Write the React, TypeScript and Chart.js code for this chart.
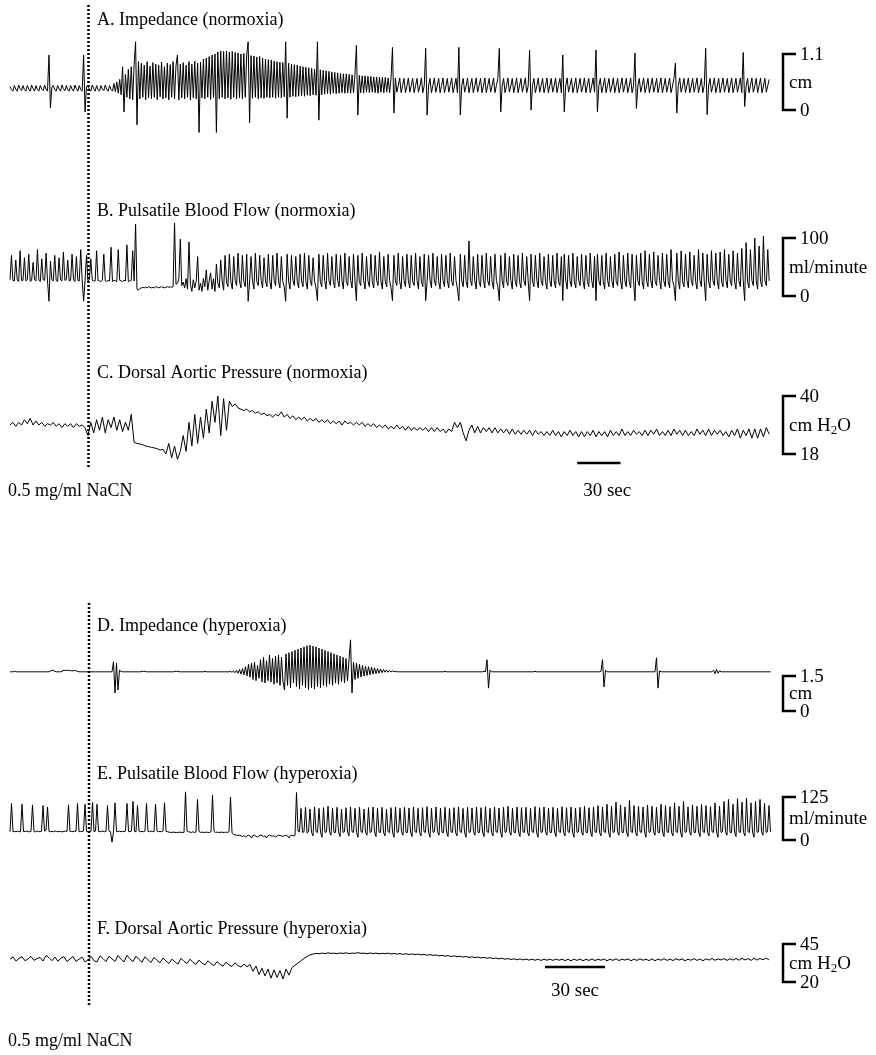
import React, { useEffect, useRef } from "react";
import { Chart, registerables } from "chart.js";
Chart.register(...registerables);

// ---------- DATA ----------
// sampling interval (seconds) of each recorded trace
const DT_A = 1;
const DT_B = 1;
const DT_C = 2;
const DT_D = 0.75;
const DT_E = 0.75;
const DT_F = 1.5;

// A. Impedance (normoxia), cm
const impedanceNormoxia = [
  0.46,0.40,0.37,0.48,0.41,0.37,0.49,0.42,0.38,0.48,0.40,0.37,0.48,0.41,0.37,0.49,0.42,0.37,0.48,0.40,
  0.37,0.48,0.41,0.38,0.49,0.41,0.37,1.08,0.04,0.45,0.48,0.40,0.37,0.48,0.41,0.37,0.49,0.42,0.38,0.48,
  0.40,0.37,0.48,0.41,0.37,0.49,0.42,0.37,0.48,0.40,0.37,1.08,-0.04,0.46,0.48,0.41,0.37,0.49,0.42,0.37,
  0.48,0.40,0.37,0.48,0.41,0.38,0.49,0.41,0.37,0.48,0.40,0.37,0.52,0.36,0.55,0.33,0.60,0.30,0.85,-0.04,
  0.70,0.25,0.80,0.22,0.85,0.20,0.90,1.34,-0.29,0.95,0.22,0.92,0.25,0.88,0.20,0.95,0.24,0.86,0.22,0.93,
  0.25,0.90,0.20,0.88,0.26,0.94,0.22,0.85,0.24,0.92,0.20,0.89,0.25,0.95,0.22,0.87,1.08,0.20,0.90,0.24,
  0.93,0.22,0.88,0.25,0.95,0.20,0.90,0.24,0.96,0.22,0.92,-0.44,0.94,0.24,1.00,0.22,1.02,0.25,1.05,0.21,
  1.08,0.24,1.10,-0.44,1.14,0.22,1.16,0.25,1.15,0.22,1.16,0.24,1.14,0.21,1.15,0.25,1.13,0.22,1.12,0.24,
  1.10,0.22,1.11,0.25,1.08,1.34,-0.25,1.07,0.23,1.06,0.25,1.04,0.22,1.05,0.24,1.02,0.23,1.00,0.25,0.99,
  0.24,0.98,0.25,0.96,0.23,0.95,0.25,0.94,0.24,0.93,0.26,1.34,-0.16,0.92,0.25,0.90,0.27,0.89,0.26,0.88,
  0.27,0.86,0.28,0.85,0.27,0.84,0.29,0.83,0.28,0.82,0.30,0.80,0.29,1.34,-0.20,0.79,0.30,0.78,0.31,0.77,
  0.32,0.76,0.31,0.75,0.33,0.74,0.32,0.73,0.33,0.72,0.34,0.71,0.33,0.71,0.34,0.70,0.33,0.69,0.34,0.69,
  1.27,-0.10,0.68,0.34,0.67,0.33,0.67,0.35,0.66,0.34,0.66,0.35,0.65,0.34,0.65,0.33,0.64,0.35,0.64,0.34,
  0.64,0.35,0.63,0.34,0.63,1.23,-0.06,0.63,0.35,0.48,0.63,0.34,0.48,0.62,0.34,0.47,0.63,0.35,0.48,0.62,
  0.34,0.48,0.62,0.35,0.47,0.63,0.34,0.48,1.21,-0.10,0.47,0.62,0.34,0.48,0.63,0.35,0.47,0.62,0.34,0.48,
  0.63,0.34,0.47,0.62,0.35,0.48,0.63,0.34,0.47,0.62,0.34,1.23,-0.10,0.48,0.62,0.35,0.47,0.63,0.34,0.48,
  0.62,0.34,0.47,0.63,0.35,0.48,0.62,0.34,0.47,0.63,0.34,0.48,0.62,0.35,0.47,0.63,0.34,0.48,0.62,1.21,
  -0.04,0.47,0.62,0.34,0.48,0.63,0.35,0.47,0.62,0.34,0.48,0.63,0.34,0.47,0.62,0.35,0.48,0.63,0.34,0.47,
  1.17,0.00,0.48,0.62,0.34,0.47,0.63,0.35,0.48,0.62,0.34,0.47,0.63,0.34,0.48,0.62,0.35,0.47,0.63,0.34,
  0.48,0.62,0.34,1.08,-0.04,0.47,0.63,0.35,0.48,0.62,0.34,0.47,0.63,0.34,0.48,0.62,0.35,0.47,0.63,0.34,
  0.48,0.62,0.34,0.47,0.63,0.35,1.18,-0.04,0.48,0.62,0.34,0.47,0.63,0.34,0.48,0.62,0.35,0.47,0.63,0.34,
  0.48,0.62,0.34,0.47,0.63,0.35,0.48,0.62,0.34,0.47,0.63,0.34,0.48,1.12,0.03,0.47,0.62,0.35,0.48,0.63,
  0.34,0.47,0.62,0.34,0.48,0.63,0.35,0.47,0.62,0.34,0.48,0.63,0.34,0.47,0.62,0.35,0.48,0.63,0.34,0.47,
  0.62,0.92,-0.06,0.48,0.63,0.35,0.47,0.62,0.34,0.48,0.63,0.34,0.47,0.62,0.35,0.48,0.63,0.34,0.47,0.62,
  0.34,0.48,1.21,-0.09,0.47,0.62,0.35,0.48,0.63,0.34,0.47,0.62,0.34,0.48,0.63,0.35,0.47,0.62,0.34,0.48,
  0.63,0.34,0.47,0.62,0.35,0.48,0.63,0.34,1.13,0.07,0.47,0.62,0.34,0.48,0.63,0.35,0.47,0.62,0.34,0.48,
  0.63,0.34,0.47,0.62,0.35,0.48,0.60,
];

// B. Pulsatile blood flow (normoxia), ml/minute
const flowNormoxia = [
  28,70,27,26,62,28,25,78,27,27,66,26,28,72,25,27,58,28,26,80,
  27,25,64,28,27,74,26,-9,60,28,26,70,27,25,66,28,26,76,27,28,
  62,26,27,72,28,25,68,27,26,80,28,-9,27,70,26,28,64,27,26,26,
  78,27,26,25,27,72,26,25,27,26,84,25,27,26,25,80,27,26,25,27,
  26,88,25,26,27,78,26,124,12,10,13,14,15,14,15,14,16,15,14,15,
  14,16,15,14,15,16,15,14,15,16,15,16,15,16,126,20,22,30,98,18,
  24,14,30,12,93,20,8,28,14,25,68,10,22,8,30,16,45,10,26,40,
  12,30,8,55,22,14,62,26,10,70,24,16,72,25,12,68,27,18,74,26,
  14,70,25,16,72,-9,24,68,26,12,74,25,18,70,27,14,66,26,16,72,
  25,12,70,27,18,74,26,14,68,25,16,-9,72,26,12,70,27,18,68,25,
  14,72,26,16,74,25,12,70,27,18,66,26,14,-8,72,25,16,70,27,12,
  74,26,18,68,25,14,72,27,16,70,26,12,74,25,18,68,27,14,72,26,
  -8,70,25,18,74,27,12,68,26,16,72,25,14,70,27,18,76,26,12,68,
  25,16,72,27,14,-8,70,26,18,74,25,12,68,27,16,72,26,14,70,25,
  18,74,27,12,68,26,16,72,-8,25,70,27,14,74,26,18,68,25,12,72,
  27,16,70,26,14,74,25,18,68,27,12,-8,72,26,16,70,25,14,95,27,
  18,68,26,12,72,25,16,70,27,14,74,26,18,68,25,12,72,27,16,-8,
  70,26,14,74,25,18,68,27,12,72,26,16,70,25,14,74,27,18,68,26,
  -8,72,25,16,70,27,14,74,26,18,68,25,12,72,27,16,70,26,14,74,
  25,18,68,-8,72,27,12,70,26,16,74,25,14,68,27,18,72,26,12,70,
  25,16,74,27,14,68,-8,72,26,18,70,25,12,74,27,16,68,26,14,72,
  25,18,76,27,12,70,26,16,74,25,14,72,27,-8,70,26,18,74,25,12,
  78,27,16,72,26,14,76,25,18,70,27,12,74,26,16,72,25,14,80,27,
  18,-8,74,26,12,78,25,16,72,27,14,76,26,18,70,25,12,80,27,16,
  74,26,-8,72,25,14,78,27,18,74,26,12,76,25,16,80,27,14,72,26,
  18,78,25,12,74,27,16,82,26,-8,92,25,14,80,27,18,100,26,12,86,
  25,16,103,27,18,80,26,
];

// C. Dorsal aortic pressure (normoxia), cm H2O
const pressureNormoxia = [
  29,30,28.5,30,29,31,29.5,31.5,29,30.5,29,30,28.5,29.5,29,30,28.5,29.5,28,29.5,
  28.5,29.5,28,29.5,28.5,29,28,25,30,26,31,27,32,26,31,28,32,27,31,26.5,
  30,27,33,22.4,22,21.8,21.5,21,20.8,20.5,20.3,20,19.5,19.8,18,22,16.5,21,16,19,
  25,19,30,21,33,22,32,24,35,26,38,30,40,25,39,27,38,36,37,35.5,
  35,34.5,35,34,34.5,33.5,34,33,33.5,32.5,33,32,33,32.5,34,32,33,31.5,32.5,31,
  32,31,32,30.5,31.5,30.5,31.5,30,31,30,31,29.5,30.5,29.5,30.5,29,30.5,29.5,30,29,
  30,29,30,28.5,29.5,28.5,29.5,28,29,28,29,27.5,28.5,27.5,29,27.5,28.5,27,28.5,27,
  28,27,28,27,28,26.5,28,26.5,28,26.5,27.5,26,27.5,26.5,30,28,30,26,23,27,
  29,26,28.5,26,28,26.5,28,26,28,26,27.5,26,27.5,25.5,27.5,25.5,27,25.5,27,25.5,
  27,25,27,25.5,26.5,25,26.5,25,27,25,26.5,24.5,26.5,25,27,25,26.5,24.5,26.5,24.5,
  26.5,25,27,24.5,26.5,25,26.5,24.5,27,25,26.5,25,27.5,25,26.5,25,27,25.5,26.5,25,
  27,25,27,25.5,27.5,25,26.5,25,27,25,27.5,25.5,27,25,27,25,26.5,25,27.5,25.5,
  27,25,27.5,25,27,25.5,27,25,26.5,24.5,27,25,27.5,24,27,25,27.5,24,27.5,24,
  27.5,24.5,28,25.5,
];

// D. Impedance (hyperoxia), cm
const impedanceHyperoxia = [
  1.68,1.68,1.68,1.70,1.68,1.68,1.68,1.68,1.68,1.68,1.68,1.68,1.68,1.68,1.68,1.68,1.68,1.68,1.68,1.68,
  1.68,1.68,1.68,1.68,1.68,1.68,1.68,1.72,1.74,1.74,1.70,1.68,1.68,1.68,1.68,1.72,1.74,1.74,1.74,1.74,
  1.74,1.72,1.72,1.74,1.72,1.70,1.68,1.68,1.68,1.68,1.68,1.68,1.68,1.68,1.68,1.68,1.68,1.68,1.68,1.68,
  1.68,1.68,1.68,1.68,1.68,1.68,1.68,1.68,1.68,2.11,0.77,2.05,0.90,1.75,1.70,1.68,1.68,1.68,1.68,1.68,
  1.68,1.68,1.68,1.68,1.68,1.68,1.68,1.68,1.70,1.70,1.70,1.68,1.68,1.68,1.68,1.68,1.68,1.68,1.68,1.68,
  1.68,1.68,1.68,1.68,1.68,1.68,1.68,1.68,1.68,1.68,1.70,1.70,1.70,1.68,1.68,1.68,1.68,1.68,1.68,1.68,
  1.68,1.68,1.68,1.68,1.68,1.68,1.68,1.68,1.68,1.68,1.70,1.68,1.68,1.68,1.68,1.68,1.68,1.68,1.68,1.68,
  1.68,1.68,1.68,1.68,1.68,1.68,1.68,1.70,1.66,1.72,1.64,1.74,1.62,1.78,1.58,1.82,1.55,1.90,1.50,2.00,
  1.45,2.05,1.35,2.10,1.30,1.95,1.40,2.20,1.25,2.30,1.20,2.15,1.30,2.40,1.24,2.25,1.15,2.35,1.20,2.40,
  1.10,2.30,1.25,0.90,2.45,1.10,2.50,1.00,2.55,1.20,2.60,1.05,2.65,0.95,2.70,1.10,2.75,1.00,2.80,0.92,
  2.82,1.00,2.78,0.95,2.75,1.05,2.70,1.00,2.65,1.10,2.60,1.05,2.55,1.15,2.50,1.10,2.45,1.20,2.40,1.15,
  2.35,1.25,2.30,1.20,2.25,1.30,2.20,3.05,0.77,2.10,1.35,2.05,1.40,2.00,1.45,1.95,1.50,1.92,1.52,1.90,
  1.55,1.88,1.58,1.85,1.60,1.82,1.62,1.80,1.64,1.78,1.66,1.76,1.66,1.74,1.67,1.72,1.68,1.70,1.68,1.68,
  1.68,1.68,1.68,1.68,1.68,1.68,1.68,1.68,1.68,1.68,1.68,1.68,1.68,1.68,1.68,1.68,1.68,1.68,1.68,1.68,
  1.68,1.68,1.68,1.68,1.68,1.68,1.68,1.68,1.68,1.68,1.70,1.68,1.68,1.68,1.68,1.68,1.68,1.68,1.68,1.68,
  1.68,1.68,1.68,1.68,1.68,1.68,1.68,1.68,1.68,1.68,1.68,1.68,1.68,1.68,1.68,1.68,1.70,1.68,2.20,0.98,
  1.75,1.68,1.68,1.68,1.68,1.68,1.68,1.68,1.68,1.68,1.68,1.68,1.68,1.68,1.68,1.68,1.68,1.68,1.68,1.68,
  1.68,1.68,1.68,1.68,1.68,1.68,1.68,1.68,1.68,1.68,1.70,1.68,1.68,1.68,1.68,1.68,1.68,1.68,1.68,1.68,
  1.68,1.68,1.68,1.68,1.68,1.68,1.68,1.68,1.68,1.68,1.68,1.68,1.68,1.68,1.68,1.68,1.68,1.68,1.68,1.68,
  1.68,1.68,1.68,1.68,1.68,1.68,1.68,1.68,1.68,1.68,1.68,1.68,1.68,1.68,1.70,2.20,1.03,1.75,1.68,1.68,
  1.68,1.68,1.68,1.68,1.68,1.68,1.68,1.68,1.68,1.68,1.68,1.68,1.68,1.68,1.68,1.68,1.68,1.68,1.68,1.68,
  1.68,1.68,1.68,1.68,1.68,1.68,1.68,1.68,1.68,1.68,1.68,2.28,0.98,1.72,1.68,1.68,1.68,1.68,1.68,1.68,
  1.68,1.68,1.68,1.68,1.68,1.68,1.68,1.68,1.68,1.68,1.68,1.68,1.68,1.68,1.68,1.68,1.68,1.68,1.68,1.68,
  1.68,1.68,1.68,1.68,1.68,1.68,1.68,1.68,1.68,1.75,1.60,1.78,1.62,1.72,1.68,1.68,1.68,1.68,1.68,1.68,
  1.68,1.68,1.68,1.68,1.68,1.68,1.68,1.68,1.68,1.68,1.68,1.68,1.68,1.68,1.68,1.68,1.68,1.68,1.68,1.68,
  1.68,1.68,1.68,1.68,1.68,1.68,1.68,1.68,
];

// E. Pulsatile blood flow (hyperoxia), ml/minute
const flowHyperoxia = [
  24,106,24,25,24,26,24,24,104,24,25,26,24,24,25,102,24,24,26,25,
  24,25,100,26,28,96,25,24,25,24,26,25,24,25,24,24,25,26,25,102,
  24,25,24,26,25,106,24,25,24,26,104,25,24,26,25,110,24,26,104,25,
  24,25,26,24,25,100,26,24,-6,24,108,25,24,26,24,25,24,26,106,25,
  24,26,112,25,24,100,26,24,25,24,26,106,25,24,26,25,24,104,26,24,
  25,24,26,108,25,24,23,22,22,23,22,22,22,23,22,22,22,140,26,24,
  23,22,24,22,23,118,25,22,23,22,22,23,22,22,24,130,25,22,23,22,
  22,23,22,22,23,22,24,125,20,16,15,14,13,14,12,10,13,8,12,14,
  12,6,13,14,11,8,12,14,13,10,12,6,13,14,12,11,13,8,12,14,
  13,12,10,13,14,12,6,13,14,12,13,138,26,24,92,22,24,95,20,24,
  90,22,12,96,24,22,92,23,8,94,22,24,98,24,14,93,22,22,95,24,
  10,90,22,24,94,23,12,96,24,22,92,22,8,95,24,22,90,23,14,94,
  22,24,96,24,10,92,23,22,95,22,12,90,24,22,94,23,8,96,22,24,
  92,24,14,95,22,22,93,23,10,96,24,22,92,22,12,94,24,22,97,23,
  8,92,22,24,96,24,14,93,22,22,95,23,10,91,24,22,94,22,12,96,
  24,22,92,23,8,95,22,24,93,24,14,96,22,22,94,23,10,97,24,22,
  92,22,12,96,24,22,93,23,8,95,22,24,98,24,14,92,22,22,96,23,
  10,94,24,22,95,22,12,92,24,22,97,23,8,94,22,24,96,24,14,93,
  22,22,95,23,10,92,24,22,97,22,12,94,24,22,96,23,8,93,22,24,
  95,24,14,98,22,22,94,23,10,96,24,22,100,22,12,96,24,22,104,23,
  8,98,22,24,110,24,14,102,22,22,96,23,10,115,24,22,100,22,12,98,
  24,22,96,23,8,102,22,24,98,24,14,95,22,22,104,23,10,100,24,22,
  97,22,12,108,24,22,98,23,8,112,22,24,96,24,14,102,22,22,98,23,
  10,104,24,22,100,22,12,97,24,22,108,23,8,98,22,24,112,24,14,118,
  22,22,104,23,10,120,24,22,110,22,12,122,24,22,108,23,8,112,22,24,
  118,24,14,106,22,24,100,24,
];

// F. Dorsal aortic pressure (hyperoxia), cm H2O
const pressureHyperoxia = [
  35,36.5,33.8,35.5,36.6,34,35.2,36.8,34.2,35.4,36.2,33.8,37.5,36,34,36.4,33.6,35.8,36.6,33.4,
  35.2,36.8,33.6,35,36.4,33.2,34.6,36.8,34,33.2,37.2,35.4,33.4,37,35.2,33.6,37.4,35,33.2,37.6,
  35.2,33.4,37,34.8,33,36.6,34.6,32.8,36.2,34.2,32.6,35.8,33.8,32.2,35,33.2,31.8,35.6,33.6,32.2,
  35,33,31.6,34.4,32.4,31.2,34,32,30.8,33.4,31.6,30.4,33,31.2,30.2,32.6,30.8,29.8,31.8,30,
  31.5,27,30.5,25,29,24,28.5,22.5,28,23,27.5,22,28.5,24.5,29.5,31,32.5,34,35.5,36.8,
  37.8,38.4,38.8,38.6,39,38.7,39.2,38.8,39,38.6,39.1,38.8,39.2,38.7,39,38.9,39.3,38.8,39,38.6,
  39.1,38.7,39,38.5,38.9,38.6,39,38.4,38.8,38.3,38.7,38.2,38.6,38.1,38.5,38,38.4,37.8,38.2,37.6,
  38,37.5,37.8,37.2,37.6,37,37.4,36.8,37.2,36.6,37,36.4,36.8,36.2,36.6,36,36.4,35.8,36.2,35.6,
  36,35.4,35.8,35.2,35.6,35,35.4,34.8,35.3,34.6,35.2,34.5,35.1,34.4,35,34.3,35,34.2,35,34.3,
  35,34.2,35.1,34.3,35,34.1,34.9,34,35,34.2,35.1,34,34.9,34.2,35.2,34.1,35,34.3,35.2,34,
  35,34.2,35.3,34.1,35,34.4,35.2,34,35.1,34.2,35.3,34.3,35,34.1,35.2,34,35.1,34.3,35.4,34.2,
  35.1,34.1,35.3,34.4,35.2,34,35,34.3,35.4,34.2,35.1,34,35.3,34.4,35.5,34.3,35.2,34.5,35.4,34.2,
  35.3,34.4,35.5,34.3,35.6,34.5,35.4,34.2,35.6,34.4,35.5,34.6,35.8,34.5,
];

// panel titles and calibration bars: [low value, high value] and their labels
const titles = [
  "A. Impedance (normoxia)",
  "B. Pulsatile Blood Flow (normoxia)",
  "C. Dorsal Aortic Pressure (normoxia)",
  "D. Impedance (hyperoxia)",
  "E. Pulsatile Blood Flow (hyperoxia)",
  "F. Dorsal Aortic Pressure (hyperoxia)",
];
const calLow = [0, 0, 18, 0, 0, 20];
const calHigh = [1.1, 100, 40, 1.5, 125, 45];
const calUnits = ["cm", "ml/minute", "cm H2O", "cm", "ml/minute", "cm H2O"];
const timeBarSeconds = 30;
const drugLabel = "0.5 mg/ml NaCN";

// ---------- LAYOUT ----------
const W = 876;
const H = 1055;
const FONT = '"Liberation Serif", "Times New Roman", serif';
const TITLE_FONT = "18px " + FONT;
const LABEL_PX = 19;
const TRACE_X0 = 10;
const TOP_PX_PER_SEC = 43.3 / 30;
const BOT_PX_PER_SEC = 2.0;
// pixel rows of each calibration bar [high, low]
const calPx = [
  [54, 110],
  [238, 296],
  [396, 454],
  [676, 711],
  [797, 840],
  [944, 982],
];
const titleY = [25, 216, 378, 631, 779, 934];
const TITLE_X = 97;
const BR_X = 783;
const BR_W = 13;
const LBL_X = 800;
const UNIT_X = 789;
const topBar = { start: 393, y: 463, textY: 496 };
const botBar = { start: 267.5, y: 967, textY: 996 };
const drugText = [{ x: 8, y: 496 }, { x: 8, y: 1046 }];
const dotted = [
  { x: 88.5, y0: 5, y1: 467 },
  { x: 89, y0: 603, y1: 1005 },
];

const series = [
  { values: impedanceNormoxia, dt: DT_A, xAxis: "xTop" },
  { values: flowNormoxia, dt: DT_B, xAxis: "xTop" },
  { values: pressureNormoxia, dt: DT_C, xAxis: "xTop" },
  { values: impedanceHyperoxia, dt: DT_D, xAxis: "xBot" },
  { values: flowHyperoxia, dt: DT_E, xAxis: "xBot" },
  { values: pressureHyperoxia, dt: DT_F, xAxis: "xBot" },
];

function yRange(i: number) {
  const [pHi, pLo] = calPx[i];
  const k = (pLo - pHi) / (calHigh[i] - calLow[i]);
  const max = calHigh[i] + pHi / k;
  return { min: max - H / k, max };
}
function xRange(pps: number) {
  return { min: -TRACE_X0 / pps, max: (W - TRACE_X0) / pps };
}

function drawUnit(ctx: CanvasRenderingContext2D, text: string, x: number, y: number) {
  const main = LABEL_PX + "px " + FONT;
  if (text.indexOf("H2O") >= 0) {
    const pre = text.replace("H2O", "H");
    ctx.font = main;
    ctx.fillText(pre, x, y);
    let w = ctx.measureText(pre).width;
    ctx.font = Math.round(LABEL_PX * 0.7) + "px " + FONT;
    ctx.fillText("2", x + w, y + 5);
    w += ctx.measureText("2").width;
    ctx.font = main;
    ctx.fillText("O", x + w, y);
  } else {
    ctx.font = main;
    ctx.fillText(text, x, y);
  }
}

const overlay = {
  id: "overlay",
  afterDatasetsDraw(chart: any) {
    const ctx: CanvasRenderingContext2D = chart.ctx;
    ctx.save();
    ctx.fillStyle = "#000";
    ctx.strokeStyle = "#000";
    // dotted stimulus lines
    ctx.lineWidth = 2.5;
    ctx.setLineDash([2, 2]);
    for (const d of dotted) {
      ctx.beginPath();
      ctx.moveTo(d.x, d.y0);
      ctx.lineTo(d.x, d.y1);
      ctx.stroke();
    }
    ctx.setLineDash([]);
    for (let i = 0; i < titles.length; i++) {
      ctx.font = TITLE_FONT;
      ctx.textBaseline = "alphabetic";
      ctx.textAlign = "left";
      ctx.fillText(titles[i], TITLE_X, titleY[i]);
      const ys = chart.scales["y" + i];
      const yHi = ys.getPixelForValue(calHigh[i]);
      const yLo = ys.getPixelForValue(calLow[i]);
      ctx.lineWidth = 2.5;
      ctx.beginPath();
      ctx.moveTo(BR_X + BR_W, yHi);
      ctx.lineTo(BR_X, yHi);
      ctx.lineTo(BR_X, yLo);
      ctx.lineTo(BR_X + BR_W, yLo);
      ctx.stroke();
      ctx.textBaseline = "middle";
      ctx.font = LABEL_PX + "px " + FONT;
      ctx.fillText(String(calHigh[i]), LBL_X, yHi + 1);
      ctx.fillText(String(calLow[i]), LBL_X, yLo + 1);
      drawUnit(ctx, calUnits[i], UNIT_X, (yHi + yLo) / 2 + 1);
    }
    // 30 sec bars
    ctx.textBaseline = "alphabetic";
    ctx.font = LABEL_PX + "px " + FONT;
    const bars = [
      { axis: chart.scales.xTop, b: topBar },
      { axis: chart.scales.xBot, b: botBar },
    ];
    for (const { axis, b } of bars) {
      const x0 = axis.getPixelForValue(b.start);
      const x1 = axis.getPixelForValue(b.start + timeBarSeconds);
      ctx.lineWidth = 2.5;
      ctx.beginPath();
      ctx.moveTo(x0, b.y);
      ctx.lineTo(x1, b.y);
      ctx.stroke();
      ctx.fillText(timeBarSeconds + " sec", x0 + 6, b.textY);
    }
    ctx.font = "18px " + FONT;
    for (const t of drugText) ctx.fillText(drugLabel, t.x, t.y);
    ctx.restore();
  },
};

export default function App() {
  const ref = useRef<HTMLCanvasElement | null>(null);
  useEffect(() => {
    document.body.style.margin = "0";
    const datasets = series.map((s, i) => ({
      data: s.values.map((v, j) => ({ x: j * s.dt, y: v })),
      xAxisID: s.xAxis,
      yAxisID: "y" + i,
      borderColor: "#000",
      borderWidth: 1,
      pointRadius: 0,
      tension: 0,
      fill: false,
    }));
    const scales: any = {
      xTop: { type: "linear", display: false, ...xRange(TOP_PX_PER_SEC) },
      xBot: { type: "linear", display: false, ...xRange(BOT_PX_PER_SEC) },
    };
    for (let i = 0; i < 6; i++) scales["y" + i] = { type: "linear", display: false, ...yRange(i) };
    const chart = new Chart(ref.current as HTMLCanvasElement, {
      type: "line",
      data: { datasets } as any,
      options: {
        animation: false,
        responsive: false,
        devicePixelRatio: 1,
        layout: { padding: 0 },
        plugins: { legend: { display: false }, tooltip: { enabled: false } },
        events: [],
        scales,
      } as any,
      plugins: [overlay],
    });
    return () => chart.destroy();
  }, []);
  return (
    <div style={{ position: "absolute", left: 0, top: 0, width: W, height: H, background: "#fff" }}>
      <canvas ref={ref} width={W} height={H} style={{ display: "block" }} />
    </div>
  );
}
